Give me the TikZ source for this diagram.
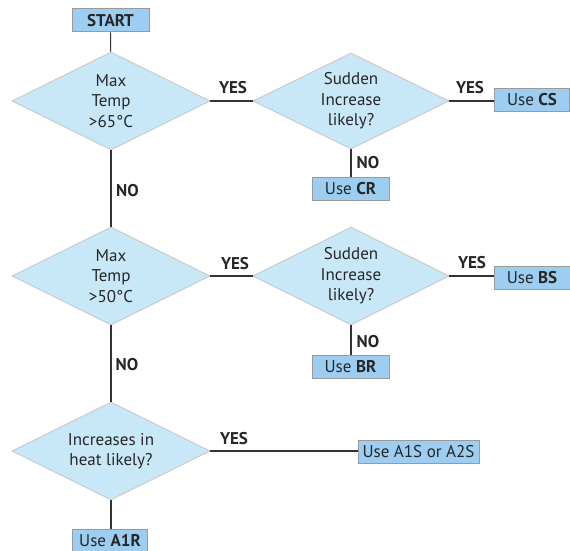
\documentclass[tikz,border=0pt]{standalone}
\usepackage{fontspec}
\setmainfont{PT Sans}
\usetikzlibrary{shapes.geometric}
\definecolor{dfill}{HTML}{C8E8F8}
\definecolor{dline}{HTML}{C8C8C8}
\definecolor{bfill}{HTML}{9DCDF0}
\definecolor{bline}{HTML}{9A9A9A}
\definecolor{conn}{HTML}{333333}
\tikzset{
  dec/.style={shape=diamond, aspect=2, fill=dfill, draw=dline, line width=0.9pt, minimum width=198pt, minimum height=98pt, inner sep=0pt, align=center, font=\fontsize{17}{20.5}\selectfont, text=black!85},
  res/.style={rectangle, fill=bfill, draw=bline, line width=1pt, minimum height=23pt, inner sep=0pt, font=\fontsize{17}{18}\selectfont, text=black!85},
  lbl/.style={font=\fontsize{17}{18}\selectfont\bfseries, text=black!85, inner sep=0pt},
  cn/.style={draw=conn, line width=1.1pt}
}
\begin{document}
\begin{tikzpicture}[x=1pt,y=-1pt]
\useasboundingbox (0,0) rectangle (570,551);
\node[res, minimum width=77pt, font=\fontsize{17}{18}\selectfont\bfseries] (start) at (110.5,20.5) {START};
\node[dec] (d1) at (111,101) {Max\\Temp\\>65°C};
\node[dec, minimum width=196pt, minimum height=96pt] (d2) at (351,101) {Sudden\\Increase\\likely?};
\node[res, minimum width=75pt] (cs) at (532,100) {Use \textbf{CS}};
\node[res, minimum width=77pt] (cr) at (350.5,188.5) {Use \textbf{CR}};
\node[dec] (d3) at (111,276) {Max\\Temp\\>50°C};
\node[dec, minimum width=196pt] (d4) at (351,276) {Sudden\\Increase\\likely?};
\node[res, minimum width=76pt] (bs) at (532,277.5) {Use \textbf{BS}};
\node[res, minimum width=77pt] (br) at (350.5,366.5) {Use \textbf{BR}};
\node[dec] (d5) at (111,451) {Increases in\\heat likely?};
\node[res, minimum width=121pt] (a1s) at (418.5,451.5) {Use A1S or A2S};
\node[res, minimum width=75pt] (a1r) at (110,540.5) {Use \textbf{A1R}};

\draw[cn] (start) -- (d1);
\draw[cn] (d1.east) -- (d2.west);
\draw[cn] (d2.east) -- (cs.west |- d2.east);
\draw[cn] (d2.south) -- (cr.north -| d2.south);
\draw[cn] (d1.south) -- (d3.north);
\draw[cn] (d3.east) -- (d4.west);
\draw[cn] (d4.east) -- (bs.west |- d4.east);
\draw[cn] (d4.south) -- (br.north -| d4.south);
\draw[cn] (d3.south) -- (d5.north);
\draw[cn] (d5.east) -- (a1s.west |- d5.east);
\draw[cn] (d5.south) -- (a1r.north -| d5.south);

\node[lbl] (y1) at (233,88) {YES};
\node[lbl] (y2) at (470,88) {YES};
\node[lbl] (n2) at (368,163) {NO};
\node[lbl] (n1) at (127.5,191) {NO};
\node[lbl] (y3) at (235,264) {YES};
\node[lbl] (y4) at (472,263) {YES};
\node[lbl] (n4) at (368,342) {NO};
\node[lbl] (n3) at (127,365) {NO};
\node[lbl] (y5) at (234,439) {YES};
\end{tikzpicture}
\end{document}
